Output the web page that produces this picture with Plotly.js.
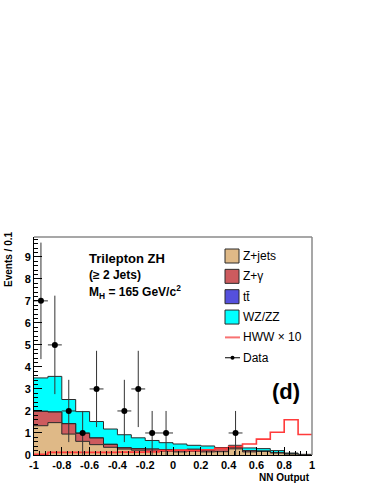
<!DOCTYPE html>
<html>
<head>
<meta charset="utf-8">
<script src="https://cdn.plot.ly/plotly-3.0.1.min.js"></script>
<style>
  body { margin: 0; background: #fff; }
  #plot { width: 374px; height: 484px; }
</style>
</head>
<body>
<div id="plot"></div>
<script>
// bin edges of the NN output histograms (20 bins of 0.1)
const edges = [-1, -0.9, -0.8, -0.7, -0.6, -0.5, -0.4, -0.3, -0.2, -0.1, 0,
    0.1, 0.2, 0.3, 0.4, 0.5, 0.6, 0.7, 0.8, 0.9, 1];

// backgrounds, events per bin
const zJets = [1.33, 1.47, 0.95, 0.62, 0.47, 0.35, 0.27, 0.22, 0.17, 0.17,
    0.14, 0.17, 0.14, 0.15, 0.28, 0.14, 0.16, 0.09, 0.04, 0.01];
const zGamma = [0.65, 0.48, 0.47, 0.36, 0.30, 0.13, 0.06, 0.07, 0.10, 0.07,
    0.08, 0.09, 0.08, 0.16, 0.06, 0.06, 0.02, 0.01, 0.01, 0.0];
const ttbar = [0.01, 0.01, 0.01, 0.01, 0.01, 0.01, 0.0, 0.0, 0.0, 0.0,
    0.0, 0.0, 0.0, 0.0, 0.0, 0.0, 0.0, 0.0, 0.0, 0.0];
const wzzz = [1.51, 1.61, 1.09, 0.98, 0.74, 0.69, 0.59, 0.49, 0.39, 0.32,
    0.28, 0.18, 0.19, 0.03, 0.10, 0.12, 0.11, 0.10, 0.04, 0.02];
// signal x 10
const hww10 = [0.03, 0.12, 0.12, 0.12, 0.12, 0.12, 0.13, 0.13, 0.14, 0.20,
    0.22, 0.20, 0.24, 0.30, 0.38, 0.50, 0.72, 1.03, 1.60, 0.93];

// observed data
const dataX = [-0.95, -0.85, -0.75, -0.65, -0.55, -0.35, -0.25, -0.15, -0.05, 0.45];
const dataY = [7, 5, 2, 1, 3, 2, 3, 1, 1, 1];

const xTickVals = [-1, -0.8, -0.6, -0.4, -0.2, 0, 0.2, 0.4, 0.6, 0.8, 1];
const xTickText = ['-1', '-0.8', '-0.6', '-0.4', '-0.2', '0', '0.2', '0.4', '0.6', '0.8', '1'];

const legendNames = ['Z+jets', 'Z+\u03b3', 't\u0074\u0304', 'WZ/ZZ', 'HWW \u00d7 10', 'Data'];
const legendColors = ['#dfb987', '#cd5b5e', '#5550dd', '#00ffff', '#f87272', '#000000'];

const FONT = 'Liberation Sans, Arial, Helvetica, sans-serif';

function addUp(a, b) {
    return a.map((v, i) => v + b[i]);
}

function step(v) {
    // repeat the last value so the hv line covers the last bin
    return v.concat([v[v.length - 1]]);
}

let c1 = zJets;
let c2 = addUp(c1, zGamma);
let c3 = addUp(c2, ttbar);
let c4 = addUp(c3, wzzz);

function stackTrace(cum, color) {
    return {
        x: edges,
        y: step(cum),
        type: 'scatter',
        mode: 'lines',
        line: { shape: 'hv', color: '#2b2b2b', width: 1 },
        fill: 'tozeroy',
        fillcolor: color,
        hoverinfo: 'skip'
    };
}

let traces = [
    stackTrace(c4, legendColors[3]),
    stackTrace(c3, legendColors[2]),
    stackTrace(c2, legendColors[1]),
    stackTrace(c1, legendColors[0]),
    {
        x: edges,
        y: step(hww10),
        type: 'scatter',
        mode: 'lines',
        line: { shape: 'hv', color: '#ff3b3b', width: 1.6 }
    },
    {
        x: dataX,
        y: dataY,
        type: 'scatter',
        mode: 'markers',
        marker: { color: '#000', size: 6 },
        error_y: {
            type: 'data',
            array: dataY.map(n => Math.sqrt(n)),
            color: '#333',
            thickness: 1,
            width: 0
        },
        error_x: {
            type: 'data',
            array: dataX.map(() => 0.05),
            color: '#333',
            thickness: 1,
            width: 0
        }
    }
];

// plot area in pixels: x 34..312, y 237..455
const PX = (px) => (px - 34) / 278;
const PY = (py) => (455 - py) / 218;

let shapes = [
    // grey frame top and right
    { type: 'line', xref: 'paper', yref: 'paper', x0: 0, x1: 1, y0: 1, y1: 1,
      line: { color: '#8a8a8a', width: 1.5 } },
    { type: 'line', xref: 'paper', yref: 'paper', x0: 1, x1: 1, y0: 0, y1: 1,
      line: { color: '#8a8a8a', width: 1.5 } }
];

let annotations = [
    { text: 'Trilepton ZH', x: PX(87), y: PY(258), size: 13 },
    { text: '(\u2265 2 Jets)', x: PX(87), y: PY(275), size: 12 },
    { text: 'M<sub>H</sub> = 165 GeV/c<sup>2</sup>', x: PX(87), y: PY(292), size: 12 },
    { text: '(d)', x: PX(270), y: PY(391), size: 22 }
].map(a => ({
    text: a.text, x: a.x, y: a.y, xref: 'paper', yref: 'paper',
    xanchor: 'left', yanchor: 'middle', showarrow: false,
    font: { family: FONT, size: a.size, weight: 'bold', color: '#000' }
}));

annotations.push({
    text: 'Events / 0.1', xref: 'paper', yref: 'paper', x: PX(9), y: 1.03,
    xanchor: 'center', yanchor: 'top', textangle: -90, showarrow: false,
    font: { family: FONT, size: 10, weight: 'bold', color: '#000' }
});
annotations.push({
    text: 'NN Output', xref: 'paper', yref: 'paper', x: 1, y: PY(477),
    xanchor: 'right', yanchor: 'middle', showarrow: false,
    font: { family: FONT, size: 10, weight: 'bold', color: '#000' }
});

// hand made legend, one row every ~20.3 px
const legTop = 256;
const legGap = 20.35;
for (let i = 0; i < legendNames.length; i++) {
    let cy = legTop + i * legGap;
    if (i < 4) {
        shapes.push({
            type: 'rect', xref: 'paper', yref: 'paper',
            x0: PX(225), x1: PX(239), y0: PY(cy + 7), y1: PY(cy - 7),
            fillcolor: legendColors[i], line: { color: '#2b2b2b', width: 1 }
        });
    } else if (i == 4) {
        shapes.push({
            type: 'line', xref: 'paper', yref: 'paper',
            x0: PX(225), x1: PX(240), y0: PY(cy), y1: PY(cy),
            line: { color: legendColors[i], width: 2 }
        });
    } else {
        shapes.push({
            type: 'line', xref: 'paper', yref: 'paper',
            x0: PX(225), x1: PX(240), y0: PY(cy), y1: PY(cy),
            line: { color: '#000', width: 1 }
        });
        shapes.push({
            type: 'circle', xref: 'paper', yref: 'paper',
            x0: PX(230.5), x1: PX(234.5), y0: PY(cy + 2), y1: PY(cy - 2),
            fillcolor: '#000', line: { color: '#000', width: 0 }
        });
    }
    annotations.push({
        text: legendNames[i], xref: 'paper', yref: 'paper',
        x: PX(241), y: PY(cy), xanchor: 'left', yanchor: 'middle',
        showarrow: false,
        font: { family: FONT, size: 12, color: '#000' }
    });
}

let layout = {
    width: 374,
    height: 484,
    margin: { l: 34, r: 62, t: 237, b: 29 },
    paper_bgcolor: '#fff',
    plot_bgcolor: '#fff',
    showlegend: false,
    xaxis: {
        range: [-1, 1],
        tickmode: 'array',
        tickvals: xTickVals,
        ticktext: xTickText,
        ticks: 'inside',
        ticklen: 8,
        tickcolor: '#000',
        showline: true,
        linecolor: '#000',
        linewidth: 1,
        showgrid: false,
        zeroline: false,
        tickfont: { family: FONT, size: 11, weight: 'bold', color: '#000' },
        minor: { tickmode: 'linear', tick0: -1, dtick: 0.04, ticks: 'inside', ticklen: 4, tickcolor: '#000', showgrid: false }
    },
    yaxis: {
        range: [0, 9.9],
        tick0: 0,
        dtick: 1,
        ticks: 'inside',
        ticklen: 8,
        tickcolor: '#000',
        showline: true,
        linecolor: '#000',
        linewidth: 1,
        showgrid: false,
        zeroline: false,
        tickfont: { family: FONT, size: 11, weight: 'bold', color: '#000' },
        minor: { tick0: 0, dtick: 0.2, ticks: 'inside', ticklen: 4, tickcolor: '#000', showgrid: false }
    },
    shapes: shapes,
    annotations: annotations
};

Plotly.newPlot('plot', traces, layout, { staticPlot: true });
</script>
</body>
</html>
